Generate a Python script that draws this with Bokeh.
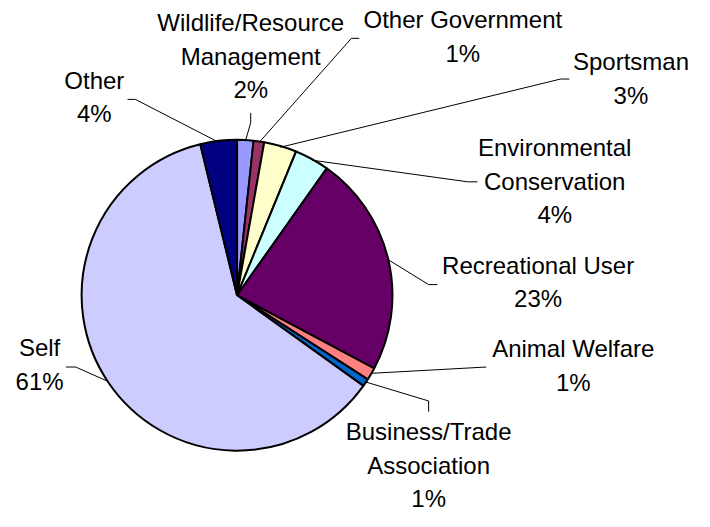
import numpy as np
from bokeh.plotting import figure
from bokeh.models import Range1d, ColumnDataSource
from bokeh.core.properties import value
from bokeh.embed import file_html
from bokeh.resources import INLINE

# ---- data ----
categories = ["Wildlife/Resource Management", "Other Government", "Sportsman",
              "Environmental Conservation", "Recreational User", "Animal Welfare",
              "Business/Trade Association", "Self", "Other"]
shares = [1.7, 1.1, 3.4, 3.6, 23.0, 1.3, 0.8, 61.3, 3.8]
colors = ["#9999FF", "#993366", "#FFFFCC", "#CCFFFF", "#660066", "#FF8080",
          "#0066CC", "#CCCCFF", "#000080"]
name_lines = [["Wildlife/Resource", "Management"], ["Other Government"], ["Sportsman"],
              ["Environmental", "Conservation"], ["Recreational User"], ["Animal Welfare"],
              ["Business/Trade", "Association"], ["Self"], ["Other"]]

# ---- layout (reference pixel coordinates, y measured from top) ----
PAGE_W, PAGE_H = 710, 527
cx, cy_px, R = 242, 304, 159
label_pos = [(256, 23), (473, 20), (645, 63), (567, 152), (550, 273),
             (586, 359), (438, 445), (40, 358), (96, 82)]
elbows = [[(256, 126), (256, 116)], [(359, 39), (367, 39)], [(573, 81), (582, 81)],
          [(478, 187), (488, 187)], [(438, 293), (447, 293)], [(497, 378), (497, 378)],
          [(438, 413), (438, 424)], [(77, 378), (67, 378)], [(138, 102), (130, 102)]]
LINE_STEP = 34.5

def Y(py):
    return PAGE_H - py

cy = Y(cy_px)
total = float(sum(shares))
frac = np.array(shares) / total
cum_end = np.cumsum(frac)
cum_start = cum_end - frac
start_angle = np.pi / 2 - 2 * np.pi * cum_start
end_angle = np.pi / 2 - 2 * np.pi * cum_end
mid_angle = (start_angle + end_angle) / 2

p = figure(width=694, height=511, x_range=Range1d(0, PAGE_W), y_range=Range1d(0, PAGE_H),
           output_backend="svg", toolbar_location=None, min_border=0)
p.axis.visible = False
p.grid.visible = False
p.outline_line_color = None
p.background_fill_color = "white"
p.border_fill_color = "white"

src = ColumnDataSource(dict(start=start_angle, end=end_angle, color=colors, name=categories))
p.wedge(x=cx, y=cy, radius=R, start_angle="start", end_angle="end", direction="clock",
        fill_color="color", line_color="black", line_width=2, source=src)

# leader lines
xs, ys = [], []
for a, el in zip(mid_angle, elbows):
    sx = cx + R * np.cos(a)
    sy = cy + R * np.sin(a)
    xs.append([sx] + [e[0] for e in el])
    ys.append([sy] + [Y(e[1]) for e in el])
p.multi_line(xs=xs, ys=ys, line_color="black", line_width=1)

# labels
tx, ty, tt = [], [], []
for names, s, (lx, ly) in zip(name_lines, shares, label_pos):
    lines = names + [f"{round(s)}%"]
    for i, t in enumerate(lines):
        tx.append(lx)
        ty.append(Y(ly + i * LINE_STEP))
        tt.append(t)
p.text(x=tx, y=ty, text=tt, text_font=value("Liberation Sans"), text_font_size="24px",
       text_align="center", text_baseline="middle", text_color="black")

open("out.html", "w").write(file_html(p, INLINE))
